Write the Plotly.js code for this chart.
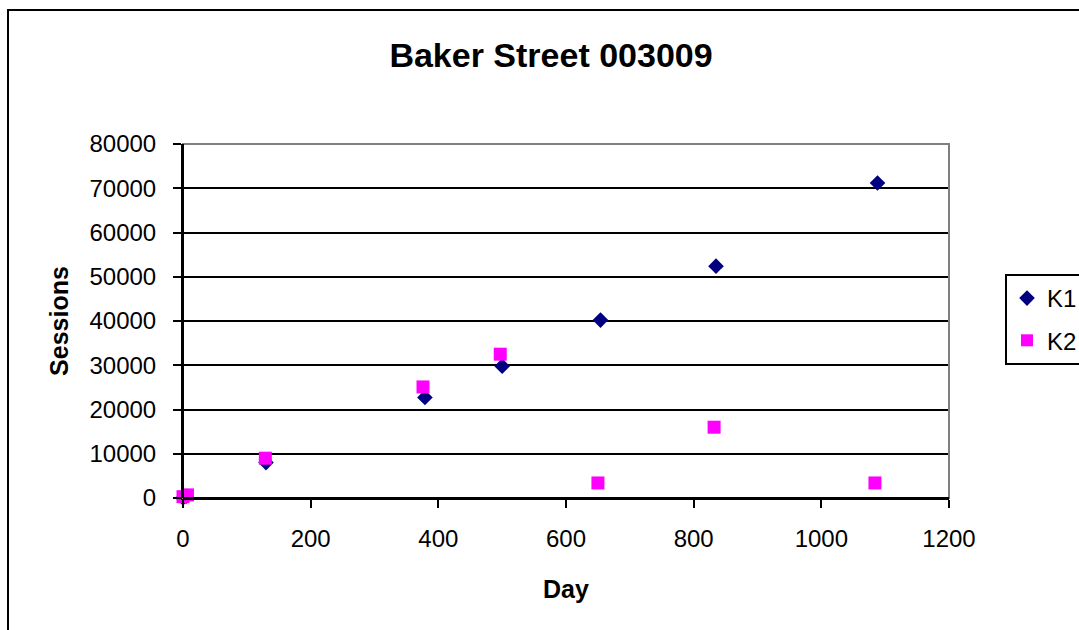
<!DOCTYPE html>
<html>
<head>
<meta charset="utf-8">
<script src="https://cdn.plot.ly/plotly-3.0.1.min.js"></script>
<style>html,body{margin:0;padding:0;background:#fff;}#chart{width:1079px;height:630px;}</style>
</head>
<body>
<div id="chart"></div>
<script>
var chartTitle = "Baker Street 003009";
var xTitle = "Day";
var yTitle = "Sessions";
var k1Days = [0, 5, 130, 379, 500, 654, 835, 1088];
var k1Sessions = [0, 400, 8000, 22700, 29800, 40200, 52400, 71200];
var k2Days = [0, 7, 129, 376, 497, 650, 832, 1084];
var k2Sessions = [300, 700, 9000, 25100, 32500, 3400, 16000, 3400];
var xTicks = [0, 200, 400, 600, 800, 1000, 1200];
var yTicks = [0, 10000, 20000, 30000, 40000, 50000, 60000, 70000, 80000];

var font = "Liberation Sans, Arial, sans-serif";
var traces = [
  {x: k1Days, y: k1Sessions, name: "K1", type: "scatter", mode: "markers", legendgroup: "a",
   marker: {symbol: "diamond", size: 12, color: "#000080"}, cliponaxis: false},
  {x: k2Days, y: k2Sessions, name: "K2", type: "scatter", mode: "markers", legendgroup: "b",
   marker: {symbol: "square", size: 13, color: "#FF00FF"}, cliponaxis: false}
];
var layout = {
  width: 1079, height: 630,
  margin: {l: 183, r: 130, t: 144, b: 132, autoexpand: false},
  paper_bgcolor: "#fff", plot_bgcolor: "#fff",
  font: {family: font, color: "#000", size: 24},
  title: {text: "<b>" + chartTitle + "</b>", font: {size: 34, family: font, color: "#000"},
          x: 551/1079, xanchor: "center", y: 1 - 55/630, yanchor: "middle"},
  xaxis: {range: [0, 1200], tickvals: xTicks, ticktext: xTicks.map(String),
          showgrid: false, zeroline: false, showline: true, linecolor: "#000", linewidth: 2,
          ticks: "outside", ticklen: 8, tickwidth: 2, tickcolor: "#000",
          ticklabelstandoff: 10, automargin: false,
          tickfont: {size: 24, family: font}, fixedrange: true,
          title: {text: "<b>" + xTitle + "</b>", font: {size: 25, family: font}, standoff: 30}},
  yaxis: {range: [0, 80000], tickvals: yTicks, ticktext: yTicks.map(String),
          showgrid: true, gridcolor: "#000", gridwidth: 2, zeroline: false,
          showline: true, linecolor: "#000", linewidth: 2,
          ticks: "outside", ticklen: 8, tickwidth: 2, tickcolor: "#000",
          ticklabelstandoff: 12, automargin: false,
          tickfont: {size: 24, family: font}, fixedrange: true,
          title: {text: "<b>" + yTitle + "</b>", font: {size: 25, family: font}, standoff: 14}},
  showlegend: true,
  legend: {x: (1005 - 183) / 766, y: (498 - 274) / 354, xanchor: "left", yanchor: "top",
           bordercolor: "#000", borderwidth: 2, bgcolor: "#fff", traceorder: "grouped",
           font: {size: 24, family: font}, itemsizing: "constant", tracegroupgap: 8},
  shapes: [
    {type: "rect", xref: "paper", yref: "paper", x0: 0, x1: 1, y0: 0, y1: 1,
     line: {color: "#808080", width: 2}, layer: "above"},
    {type: "line", xref: "paper", yref: "paper", x0: 0, x1: 0, y0: 0, y1: 1,
     line: {color: "#000", width: 2}, layer: "above"},
    {type: "line", xref: "paper", yref: "paper", x0: 0, x1: 1, y0: 0, y1: 0,
     line: {color: "#000", width: 2}, layer: "above"},
    {type: "rect", xref: "paper", yref: "paper", x0: (8 - 183) / 766, x1: 1.5,
     y0: -0.6, y1: (498 - 10) / 354, line: {color: "#000", width: 2}, layer: "below"}
  ]
};
Plotly.newPlot("chart", traces, layout, {displayModeBar: false, staticPlot: true});
</script>
</body>
</html>
